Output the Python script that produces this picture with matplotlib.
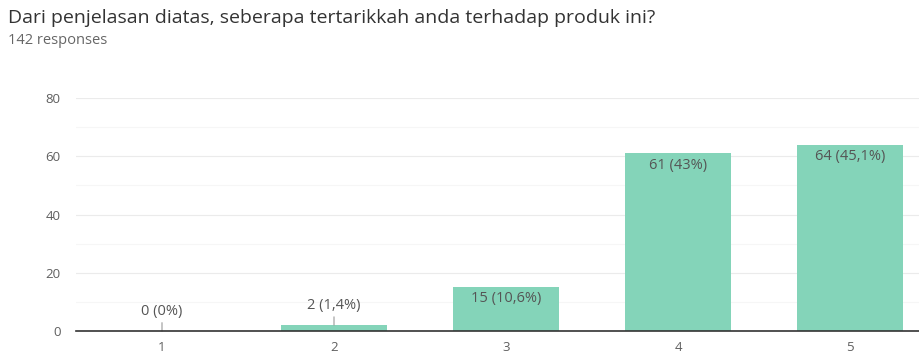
import matplotlib
matplotlib.use("Agg")
import matplotlib.pyplot as plt

# survey answers: rating scale 1..5
categories = ["1", "2", "3", "4", "5"]
counts = [0, 2, 15, 61, 64]
percent_labels = ["0%", "1,4%", "10,6%", "43%", "45,1%"]
yticks = [0, 20, 40, 60, 80]

bar_color = "#84d4b9"
text_color = "#5f5f5f"

plt.rcParams["font.family"] = ["Open Sans", "DejaVu Sans"]

fig = plt.figure(figsize=(9.2, 3.56), dpi=100)
fig.text(8 / 920, 1 - 18 / 356, "Dari penjelasan diatas, seberapa tertarikkah anda terhadap produk ini?",
         fontsize=14, color="#333333", va="center", ha="left")
fig.text(8 / 920, 1 - 40 / 356, "142 responses", fontsize=10.5, color="#666666", va="center", ha="left")

ax = fig.add_axes([76 / 920, 25 / 356, 860 / 920, 233 / 356])
x = list(range(1, len(categories) + 1))
ax.bar(x, counts, width=0.62, color=bar_color, zorder=2)

ax.set_xlim(0.5, 5.5)
ax.set_ylim(0, 80)
ax.set_yticks(yticks)
ax.set_yticks([10, 30, 50, 70], minor=True)
ax.set_xticks(x)
ax.set_xticklabels(categories)
ax.grid(axis="y", which="major", color="#ebebeb", linewidth=0.8, zorder=0)
ax.grid(axis="y", which="minor", color="#f6f6f6", linewidth=0.8, zorder=0)
ax.tick_params(axis="both", which="both", length=0, labelsize=9.5, colors=text_color)
ax.tick_params(axis="y", pad=11)
ax.tick_params(axis="x", pad=7)
for side in ["top", "right", "left"]:
    ax.spines[side].set_visible(False)
ax.spines["bottom"].set_color("#333333")
ax.spines["bottom"].set_linewidth(1.2)
ax.spines["bottom"].set_zorder(3)

for xi, c, p in zip(x, counts, percent_labels):
    label = f"{c} ({p})"
    if c < 10:
        # small bars get the label above with a leader line
        ax.annotate(label, xy=(xi, c), xytext=(0, 9), textcoords="offset points",
                    ha="center", va="bottom", fontsize=10.5, color="#555555",
                    arrowprops=dict(arrowstyle="-", color="#999999", lw=0.8,
                                    shrinkA=1, shrinkB=0))
    else:
        ax.annotate(label, xy=(xi, c), xytext=(0, -3), textcoords="offset points",
                    ha="center", va="top", fontsize=10.5, color="#555555")

fig.savefig("out.png", dpi=100)
